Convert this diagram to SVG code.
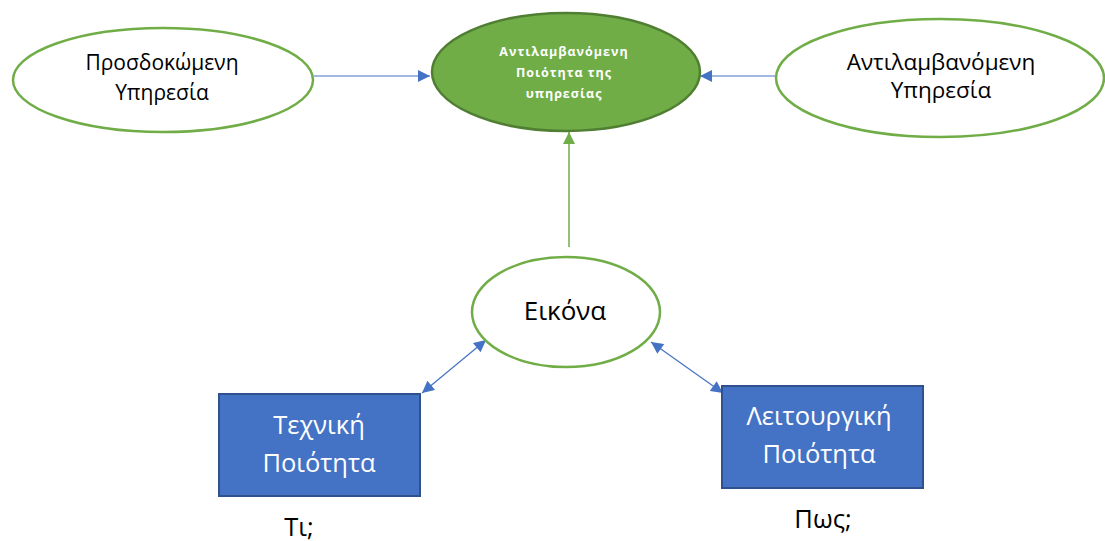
<svg xmlns="http://www.w3.org/2000/svg" width="1105" height="541" viewBox="0 0 1105 541">
<defs>
<style>
.ell{fill:#fff;stroke:#70AD47;stroke-width:2.5}
.t{font-family:"Open Sans","Noto Sans",sans-serif;text-anchor:middle;fill:#000}
.w{fill:#fff}
.g{font-size:12.5px;font-weight:bold;letter-spacing:1px}
.rect{fill:#4472C4;stroke:#2F528F;stroke-width:2}
.rt{font-size:25.5px}
.blue{stroke:#4472C4;stroke-width:1.2;fill:none}
.green{stroke:#70AD47;stroke-width:1.5;fill:none}
</style>
<marker id="ab2" viewBox="0 0 10 10" refX="10" refY="5" markerWidth="15" markerHeight="12" markerUnits="userSpaceOnUse" orient="auto-start-reverse">
<path d="M0,0 L10,5 L0,10 Z" fill="#4472C4"/>
</marker>
<marker id="ag" viewBox="0 0 10 10" refX="10" refY="5" markerWidth="15" markerHeight="12" markerUnits="userSpaceOnUse" orient="auto">
<path d="M0,0 L10,5 L0,10 Z" fill="#70AD47"/>
</marker>
</defs>
<g id="connectors">
<line class="blue" x1="314" y1="76" x2="430" y2="76" marker-end="url(#ab2)"/>
<line class="blue" x1="775" y1="76" x2="700" y2="76" marker-end="url(#ab2)"/>
<line class="green" x1="569" y1="247" x2="569" y2="132" marker-end="url(#ag)"/>
<line class="blue" x1="422" y1="393" x2="486" y2="340" marker-start="url(#ab2)" marker-end="url(#ab2)"/>
<line class="blue" x1="723" y1="393" x2="651" y2="342" marker-start="url(#ab2)" marker-end="url(#ab2)"/>
</g>
<g id="node-expected">
<ellipse class="ell" cx="163" cy="80" rx="150" ry="52"/>
<text class="t" x="162" y="70" font-size="21">Προσδοκώμενη</text>
<text class="t" x="162" y="100" font-size="21">Υπηρεσία</text>
</g>
<g id="node-perceived-quality">
<ellipse cx="566" cy="72" rx="134" ry="59" fill="#70AD47" stroke="#507E32" stroke-width="2.5"/>
<text class="t w g" x="564" y="56">Αντιλαμβανόμενη</text>
<text class="t w g" x="564" y="77">Ποιότητα της</text>
<text class="t w g" x="564" y="98">υπηρεσίας</text>
</g>
<g id="node-perceived">
<ellipse class="ell" cx="940" cy="78" rx="164" ry="59"/>
<text class="t" x="941" y="70" font-size="22.5">Αντιλαμβανόμενη</text>
<text class="t" x="941" y="98" font-size="22.5">Υπηρεσία</text>
</g>
<g id="node-image">
<ellipse class="ell" cx="566" cy="312" rx="94" ry="55"/>
<text class="t" x="565" y="320" font-size="26">Εικόνα</text>
</g>
<g id="node-technical">
<rect class="rect" x="219" y="394" width="201" height="102"/>
<text class="t w rt" x="319" y="434">Τεχνική</text>
<text class="t w rt" x="319" y="472">Ποιότητα</text>
</g>
<g id="node-functional">
<rect class="rect" x="722" y="386" width="201" height="102"/>
<text class="t w rt" x="819" y="425">Λειτουργική</text>
<text class="t w rt" x="819" y="463">Ποιότητα</text>
</g>
<g id="label-what">
<text class="t rt" x="299" y="536">Τι;</text>
</g>
<g id="label-how">
<text class="t rt" x="823" y="528">Πως;</text>
</g>
</svg>
